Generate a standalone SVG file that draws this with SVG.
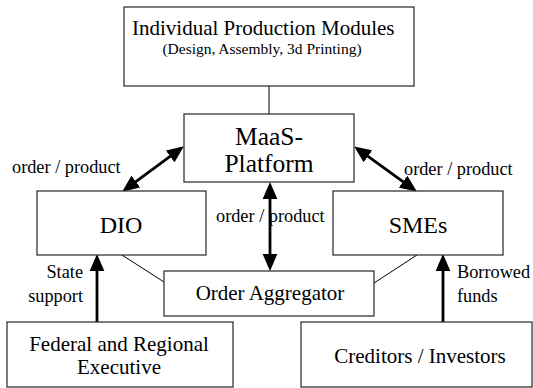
<svg xmlns="http://www.w3.org/2000/svg" width="533" height="388" viewBox="0 0 533 388">
  <style>
    .box { fill: #ffffff; stroke: #262626; stroke-width: 1.2; }
    text { font-family: 'Liberation Serif', 'Times New Roman', Times, 'DejaVu Serif', serif; fill: #000000; }
    .link { stroke: #000000; stroke-width: 1; fill: none; }
    .flow { stroke: #000000; stroke-width: 2.8; fill: none; }
  </style>
  <defs>
    <!-- solid triangular head, reused at both ends of the two-way flows -->
    <marker id="head" markerUnits="userSpaceOnUse" markerWidth="17" markerHeight="16" viewBox="0 0 15 14" refX="7" refY="7" orient="auto-start-reverse">
      <path d="M0,0.5 L15,7 L0,13.5 Z" fill="#000000"/>
    </marker>
  </defs>

  <g id="connectors">
    <line class="link" x1="269" y1="86" x2="269" y2="114"/>
    <line class="link" x1="122" y1="255" x2="164" y2="282"/>
    <line class="link" x1="417" y1="255" x2="374" y2="283"/>
    <line class="flow" x1="129.45" y1="186.27" x2="176.55" y2="151.73" marker-start="url(#head)" marker-end="url(#head)"/>
    <line class="flow" x1="361.49" y1="151.68" x2="409.51" y2="186.32" marker-start="url(#head)" marker-end="url(#head)"/>
    <line class="flow" x1="270" y1="191" x2="270" y2="262" marker-start="url(#head)" marker-end="url(#head)"/>
    <line class="flow" x1="97" y1="322" x2="97" y2="263" marker-end="url(#head)"/>
    <line class="flow" x1="443" y1="322" x2="443" y2="263" marker-end="url(#head)"/>
  </g>

  <g id="modules">
    <rect class="box" x="124" y="7" width="290" height="79"/>
    <text x="132" y="35" font-size="21">Individual Production Modules</text>
    <text x="262" y="54" font-size="15.5" text-anchor="middle">(Design, Assembly, 3d Printing)</text>
  </g>

  <g id="maas">
    <rect class="box" x="184" y="114" width="170" height="68"/>
    <text x="269" y="145" font-size="25.5" text-anchor="middle">MaaS-</text>
    <text x="269" y="172" font-size="25.5" text-anchor="middle">Platform</text>
  </g>

  <g id="dio">
    <rect class="box" x="37" y="191" width="169" height="64"/>
    <text x="121" y="233" font-size="24" text-anchor="middle">DIO</text>
  </g>

  <g id="smes">
    <rect class="box" x="333" y="191" width="170" height="64"/>
    <text x="418" y="233" font-size="24" text-anchor="middle">SMEs</text>
  </g>

  <g id="aggregator">
    <rect class="box" x="164" y="271" width="210" height="45"/>
    <text x="270" y="300" font-size="21" text-anchor="middle">Order Aggregator</text>
  </g>

  <g id="executive">
    <rect class="box" x="7" y="322" width="226" height="65"/>
    <text x="119" y="351" font-size="21" text-anchor="middle">Federal and Regional</text>
    <text x="119" y="374" font-size="21" text-anchor="middle">Executive</text>
  </g>

  <g id="creditors">
    <rect class="box" x="301" y="322" width="231" height="65"/>
    <text x="420" y="363" font-size="21" text-anchor="middle">Creditors / Investors</text>
  </g>

  <g id="labels">
    <text x="12" y="173" font-size="18.3">order / product</text>
    <text x="404" y="175" font-size="18.3">order / product</text>
    <text x="216" y="222" font-size="18.3">order / product</text>
    <text x="83" y="278" font-size="18.3" text-anchor="end">State</text>
    <text x="83" y="302" font-size="18.3" text-anchor="end">support</text>
    <text x="457" y="278" font-size="18.3">Borrowed</text>
    <text x="457" y="302" font-size="18.3">funds</text>
  </g>
</svg>
